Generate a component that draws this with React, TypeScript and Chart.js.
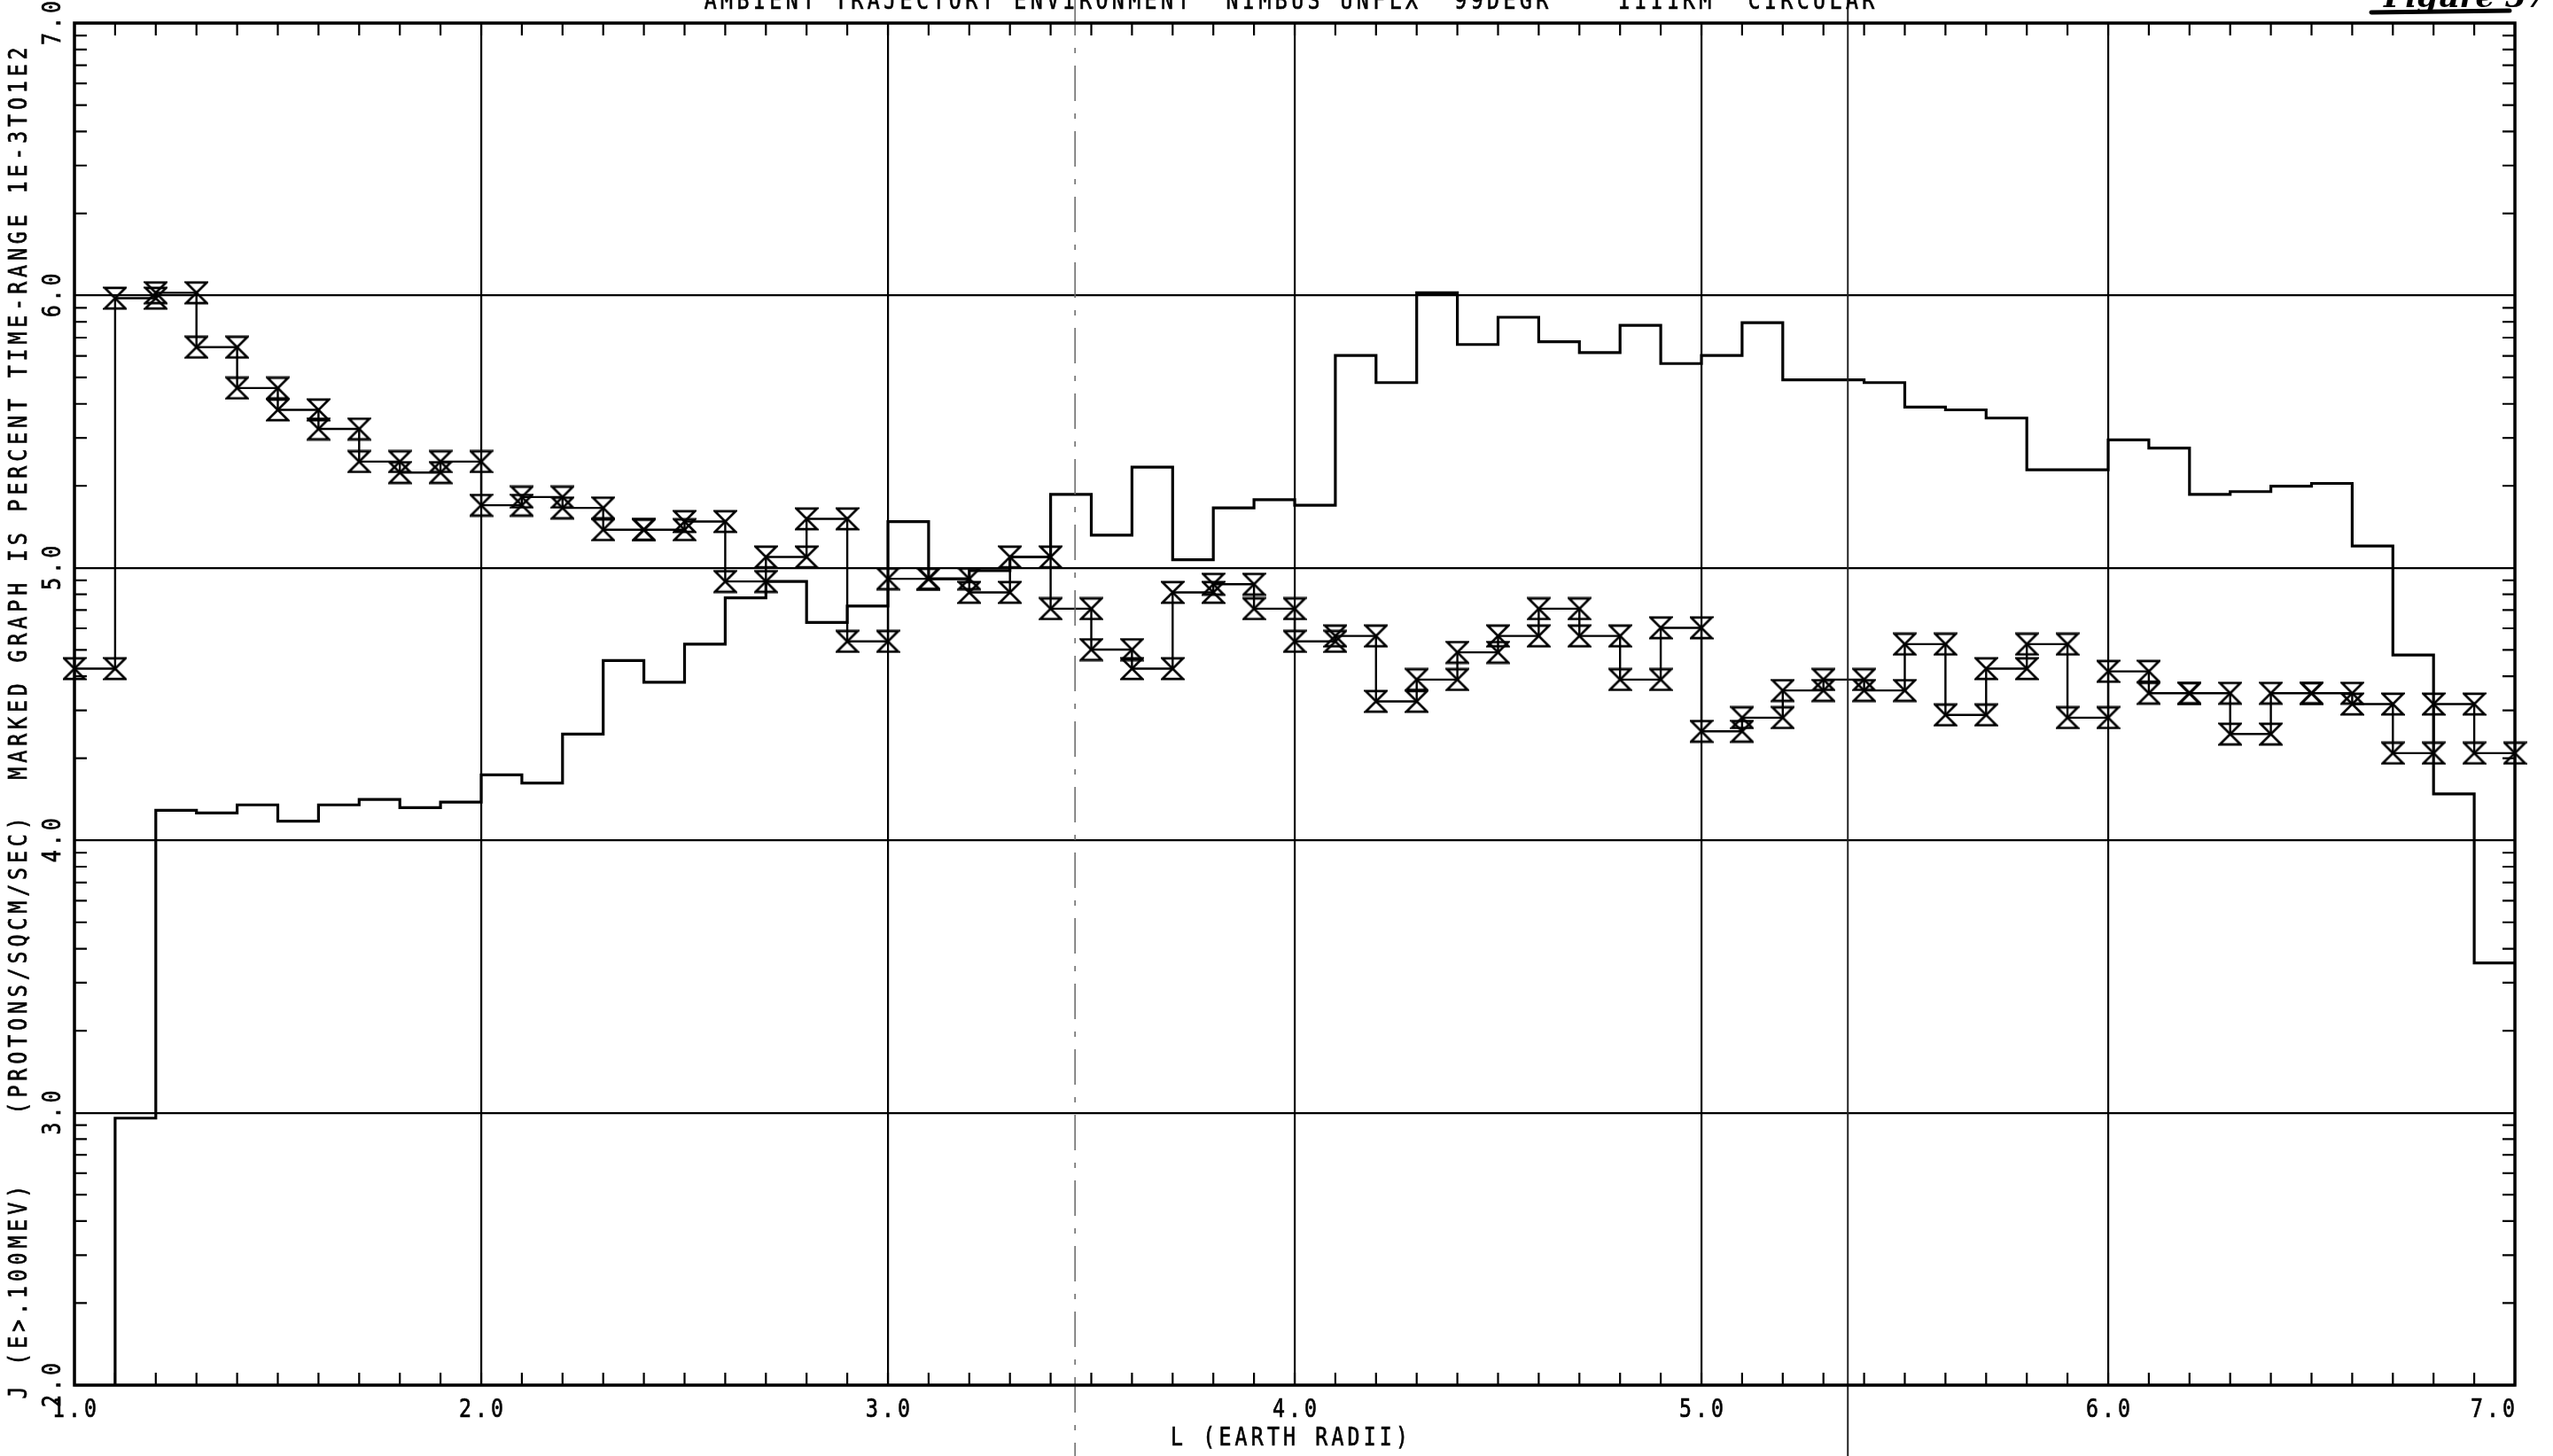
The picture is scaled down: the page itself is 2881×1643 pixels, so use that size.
import React, { useEffect, useRef } from "react";
import { Chart, registerables } from "chart.js";

Chart.register(...registerables);

// ---- data -------------------------------------------------------------
// L-shell bin edges (earth radii)
const binEdges = [
  1.0, 1.1, 1.2, 1.3, 1.4, 1.5, 1.6, 1.7, 1.8, 1.9,
  2.0, 2.1, 2.2, 2.3, 2.4, 2.5, 2.6, 2.7, 2.8, 2.9,
  3.0, 3.1, 3.2, 3.3, 3.4, 3.5, 3.6, 3.7, 3.8, 3.9,
  4.0, 4.1, 4.2, 4.3, 4.4, 4.5, 4.6, 4.7, 4.8, 4.9,
  5.0, 5.1, 5.2, 5.3, 5.4, 5.5, 5.6, 5.7, 5.8, 5.9,
  6.0, 6.1, 6.2, 6.3, 6.4, 6.5, 6.6, 6.7, 6.8, 6.9,
  7.0,
];

// log10 J (E>.100MEV) protons/sqcm/sec, one value per bin (first bin is off scale)
const fluxLog = [
  1.0, 2.98, 4.11, 4.10, 4.13, 4.07, 4.13, 4.15, 4.12, 4.14,
  4.24, 4.21, 4.39, 4.66, 4.58, 4.72, 4.89, 4.95, 4.80, 4.86,
  5.17, 4.96, 4.99, 5.04, 5.27, 5.12, 5.37, 5.03, 5.22, 5.25,
  5.23, 5.78, 5.68, 6.01, 5.82, 5.92, 5.83, 5.79, 5.89, 5.75,
  5.78, 5.90, 5.69, 5.69, 5.68, 5.59, 5.58, 5.55, 5.36, 5.36,
  5.47, 5.44, 5.27, 5.28, 5.30, 5.31, 5.08, 4.68, 4.17, 3.55,
];

// marked graph: percent time, mapped onto the same axis (1E-3..1E2 -> 2..7)
const timePercent = [
  4.63, 5.99, 6.01, 5.81, 5.66, 5.58, 5.51, 5.39, 5.35, 5.39,
  5.23, 5.26, 5.22, 5.14, 5.14, 5.17, 4.95, 5.04, 5.18, 4.73,
  4.96, 4.96, 4.91, 5.04, 4.85, 4.70, 4.63, 4.91, 4.94, 4.85,
  4.73, 4.75, 4.51, 4.59, 4.69, 4.75, 4.85, 4.75, 4.59, 4.78,
  4.40, 4.45, 4.55, 4.59, 4.55, 4.72, 4.46, 4.63, 4.72, 4.45,
  4.62, 4.54, 4.54, 4.39, 4.54, 4.54, 4.50, 4.32, 4.50, 4.32,
];

const xTickValues = [1, 2, 3, 4, 5, 6, 7];
const xTickLabels = ["1.0", "2.0", "3.0", "4.0", "5.0", "6.0", "7.0"];
const yTickValues = [2, 3, 4, 5, 6, 7];
const yTickLabels = ["2.0", "3.0", "4.0", "5.0", "6.0", "7.0"];
const yMinorMultipliers = [2, 3, 4, 5, 6, 7, 8, 9];

const chartTitle =
  "AMBIENT TRAJECTORY ENVIRONMENT  NIMBUS UNFLX  99DEGR    1111KM  CIRCULAR";
const xTitle = "L (EARTH RADII)";
const yTitle =
  "J (E>.100MEV)    (PROTONS/SQCM/SEC)  MARKED GRAPH IS PERCENT TIME-RANGE 1E-3TO1E2";
const figureNote = "Figure 37";
// fold / scan lines visible on the original sheet (L values)
const scanLines = [3.46, 5.36];

// ---- helpers ----------------------------------------------------------
const FONT = '29px "DejaVu Sans Mono", monospace';
const NARROW = 0.8;

function stepPoints(edges: number[], values: number[]) {
  const pts: { x: number; y: number }[] = [];
  values.forEach((v, i) => {
    pts.push({ x: edges[i], y: v });
    pts.push({ x: edges[i + 1], y: v });
  });
  return pts;
}

function makeHourglass(size: number, lw: number) {
  const c = document.createElement("canvas");
  c.width = size;
  c.height = size;
  const g = c.getContext("2d")!;
  g.strokeStyle = "#000";
  g.lineWidth = lw;
  g.lineJoin = "miter";
  const m = lw / 2 + 0.5;
  const s = size - m;
  g.beginPath();
  g.moveTo(m, m);
  g.lineTo(s, m);
  g.lineTo(m, s);
  g.lineTo(s, s);
  g.closePath();
  g.stroke();
  return c;
}

function drawSpaced(
  ctx: CanvasRenderingContext2D,
  text: string,
  cx: number,
  cy: number,
  target: number | null,
  rot: number,
  align: CanvasTextAlign = "center",
  baseline: CanvasTextBaseline = "middle"
) {
  ctx.save();
  ctx.translate(cx, cy);
  ctx.rotate(rot);
  ctx.scale(NARROW, 1);
  ctx.font = FONT;
  (ctx as any).letterSpacing = "0px";
  const w0 = ctx.measureText(text).width;
  const n = text.length;
  const ls = target ? (target / NARROW - w0) / n : 5;
  (ctx as any).letterSpacing = ls + "px";
  ctx.textAlign = align;
  ctx.textBaseline = baseline;
  ctx.fillStyle = "#000";
  ctx.strokeStyle = "#000";
  ctx.lineWidth = 0.7;
  const ox = align === "center" ? ls / 2 : align === "right" ? ls : 0;
  ctx.fillText(text, ox, 0);
  ctx.strokeText(text, ox, 0);
  ctx.restore();
}

const plotterFrame = {
  id: "plotterFrame",
  beforeDraw(chart: any) {
    const { ctx } = chart;
    ctx.save();
    ctx.fillStyle = "#fff";
    ctx.fillRect(0, 0, chart.width, chart.height);
    ctx.restore();
  },
  afterDraw(chart: any) {
    const { ctx, chartArea: a, scales } = chart;
    const xs = scales.x;
    const ys = scales.y;
    ctx.save();

    // scan / fold lines of the sheet
    ctx.lineWidth = 2;
    ctx.strokeStyle = "#222";
    ctx.beginPath();
    const f2 = xs.getPixelForValue(scanLines[1]);
    ctx.moveTo(f2, 0);
    ctx.lineTo(f2, chart.height);
    ctx.stroke();
    ctx.strokeStyle = "#666";
    ctx.lineWidth = 1.5;
    ctx.setLineDash([40, 14, 6, 14]);
    ctx.beginPath();
    const f1 = xs.getPixelForValue(scanLines[0]);
    ctx.moveTo(f1, 0);
    ctx.lineTo(f1, chart.height);
    ctx.stroke();
    ctx.setLineDash([]);

    // frame
    ctx.strokeStyle = "#000";
    ctx.lineWidth = 3.5;
    ctx.strokeRect(a.left, a.top, a.right - a.left, a.bottom - a.top);

    // inward minor ticks
    const tl = 14;
    ctx.lineWidth = 2.2;
    ctx.beginPath();
    for (let i = 1; i < binEdges.length - 1; i++) {
      const px = xs.getPixelForValue(binEdges[i]);
      ctx.moveTo(px, a.bottom);
      ctx.lineTo(px, a.bottom - tl);
      ctx.moveTo(px, a.top);
      ctx.lineTo(px, a.top + tl);
    }
    for (let d = 0; d < yTickValues.length - 1; d++) {
      for (const k of yMinorMultipliers) {
        const py = ys.getPixelForValue(yTickValues[d] + Math.log10(k));
        ctx.moveTo(a.left, py);
        ctx.lineTo(a.left + tl, py);
        ctx.moveTo(a.right, py);
        ctx.lineTo(a.right - tl, py);
      }
    }
    ctx.stroke();

    // tick labels
    xTickValues.forEach((v, i) => {
      const px = xs.getPixelForValue(v);
      const last = i === xTickValues.length - 1;
      drawSpaced(ctx, xTickLabels[i], px, a.bottom + 28, null, 0, last ? "right" : "center");
    });
    yTickValues.forEach((v, i) => {
      const py = ys.getPixelForValue(v);
      drawSpaced(ctx, yTickLabels[i], a.left - 24, py, null, -Math.PI / 2);
    });

    // axis titles
    drawSpaced(ctx, xTitle, (a.left + a.right) / 2 - 6, a.bottom + 60, 272, 0);
    drawSpaced(ctx, yTitle, 22, 816, 1530, -Math.PI / 2);

    // main title (cut off at the sheet edge)
    drawSpaced(ctx, chartTitle, 1455, 10, 1325, 0, "center", "alphabetic");

    // handwritten figure note
    ctx.save();
    ctx.font = 'italic bold 34px "DejaVu Serif", serif';
    ctx.fillStyle = "#000";
    ctx.textAlign = "left";
    ctx.textBaseline = "alphabetic";
    ctx.fillText(figureNote, 2690, 8);
    ctx.lineWidth = 5;
    ctx.lineCap = "round";
    ctx.beginPath();
    ctx.moveTo(2676, 14);
    ctx.lineTo(2832, 12);
    ctx.stroke();
    ctx.restore();

    ctx.restore();
  },
};

export default function App() {
  const ref = useRef<HTMLCanvasElement | null>(null);

  useEffect(() => {
    document.body.style.margin = "0";
    document.body.style.overflow = "hidden";
    const canvas = ref.current!;
    const hourglass = makeHourglass(27, 2.8);
    const chart = new Chart(canvas, {
      type: "line",
      data: {
        datasets: [
          {
            label: "J (E>.100MEV)",
            data: stepPoints(binEdges, fluxLog),
            borderColor: "#000",
            borderWidth: 3.2,
            pointRadius: 0,
            fill: false,
            tension: 0,
          },
          {
            label: "PERCENT TIME",
            data: stepPoints(binEdges, timePercent),
            borderColor: "#000",
            borderWidth: 2.4,
            pointStyle: hourglass as any,
            pointRadius: 13,
            pointHoverRadius: 13,
            fill: false,
            tension: 0,
            clip: false as any,
          },
        ],
      },
      options: {
        animation: false,
        responsive: false,
        devicePixelRatio: 1,
        events: [],
        layout: { padding: { left: 84, right: 43, top: 26, bottom: 80 } },
        plugins: {
          legend: { display: false },
          tooltip: { enabled: false },
          title: { display: false },
        },
        scales: {
          x: {
            type: "linear",
            min: 1,
            max: 7,
            ticks: { display: false, stepSize: 1 },
            grid: { color: "#000", lineWidth: 2.2, drawTicks: false },
            border: { display: false },
          },
          y: {
            type: "linear",
            min: 2,
            max: 7,
            ticks: { display: false, stepSize: 1 },
            grid: { color: "#000", lineWidth: 2.2, drawTicks: false },
            border: { display: false },
          },
        },
      },
      plugins: [plotterFrame],
    });
    return () => chart.destroy();
  }, []);

  return (
    <canvas
      ref={ref}
      width={2881}
      height={1643}
      style={{ display: "block", width: 2881, height: 1643 }}
    />
  );
}
